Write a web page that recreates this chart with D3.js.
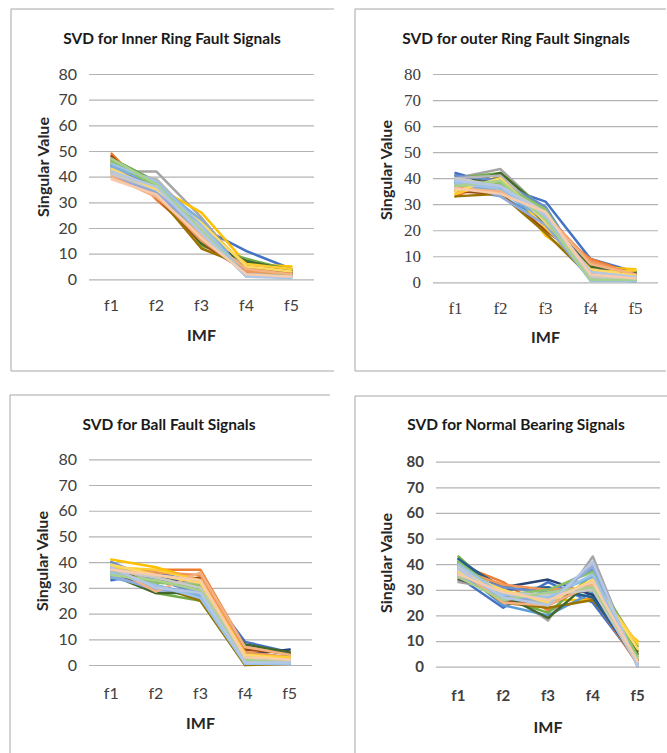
<!DOCTYPE html>
<html><head><meta charset="utf-8">
<script src="https://cdn.jsdelivr.net/npm/d3@7"></script>
<style>body{margin:0;background:#fff}svg{display:block}</style>
</head><body>
<svg id="c" width="667" height="753"></svg>
<script>
const imf = ["f1","f2","f3","f4","f5"];
const yTicks = [0,10,20,30,40,50,60,70,80];
const palette = ["#4472C4","#ED7D31","#A5A5A5","#FFC000","#5B9BD5","#70AD47",
  "#264478","#9E480E","#636363","#997300","#255E91","#43682B",
  "#698ED0","#F1975A","#B7B7B7","#FFCD33","#7CAFDD","#8CC168",
  "#8FAADC","#F4B183","#C9C9C9","#FFD966","#9DC3E6","#A9D18E","#B4C7E7","#F8CBAD"];
const titles = ["SVD for Inner Ring Fault Signals","SVD for outer Ring Fault Singnals","SVD for Ball Fault Signals","SVD for Normal Bearing Signals"];

const innerRing = [
 [47,38,20,11,4],[49,31,16,4,3],[42,42,24,3,2],[45,36,26,6,5],[43,37,18,2,1.5],[47,38,13,8,3.5],
 [44,35,15,7,3],[48,32,14,3,2.5],[43,36,22,5,3],[46,33,12,5,3],[42,35,17,2,1],[45,37,14,7,3.5],
 [44,36,19,2,1],[41,33,15,3,2],[43,39,21,1,1],[42,34,20,6,4],[44,37,23,1,1],[46,36,16,2,1.5],
 [40,34,18,2,1],[40,32,17,4,2],[41,35,20,1,1],[43,35,22,5,3],[45,38,21,1,0.5],[47,37,19,1,1],
 [42,36,18,1,1],[39,33,16,2,1]];
const outerRing = [
 [42,37,31,9,4],[33,40,22,9,3],[40,43.5,27,5,3],[34,41,18,6,5],[36,33,24,1,1],[40,42,28,3,2],
 [41,38,25,5,3],[35,34,20,7,3.5],[38,40,26,4,2],[33,34,19,2,1],[39,36,23,1,0.5],[37,42,27,6,4],
 [41,39,29,2,1],[36,37,26,8,3],[40,41,25,1,1],[34,39,21,4,4.5],[38,35,24,3,2],[37,38,28,2,1.5],
 [39,33,22,1,1],[36,35,26,7,3],[40,37,27,2,1],[35,40,23,5,2.5],[38,36,25,0.5,0.5],[37,39,24,1,1],
 [39,37,26,4,2],[36,34,27,3,1.5]];
const ballFault = [
 [33,36,32,9,5],[35,37,37,7,4],[38,34,30,5,3],[41,38,33,6,5],[40,31,27,2,1],[36,28,25,0,4],
 [37,33,29,4,6],[34,32,34,6,4.5],[36,30,26,1,1],[39,31,25,0,0.5],[38,35,31,3,2],[35,28,28,8,5],
 [40,33,28,1,1],[37,36,35,5,3],[39,32,32,2,1],[38,37,33,4,3],[34,30,27,1,0.5],[36,32,31,3,2],
 [35,29,29,1,1],[38,28.5,36,7,4],[37,34,30,2,1],[39,35,32,4,2],[36,31,26,0.5,0.5],[35,33,29,2,1],
 [38,30,28,1,1],[37,35,33,3,2]];
const normalBearing = [
 [35,23,33,25,2],[40,33,22,27,1],[33,30,18,43,0],[36,28,26,26,10],[38,24,20,29,1],[43,27,21,36,8],
 [41,31,34,28,3],[39,26,24,32,2],[34,29,27,30,1],[37,25,23,26,6],[42,30,31,27,2],[40,28,19,34,5],
 [36,31,29,38,1],[38,32,30,31,3],[39,27,25,40,0],[35,29,27,33,9],[37,26,28,35,1],[41,28,30,37,4],
 [36,27,26,39,0.5],[38,25,24,32,2],[39,29,28,30,1],[37,30,25,34,7],[40,28,27,36,1],[35,26,29,31,3],
 [38,27,24,41,0.5],[36,29,26,33,2]];

const svg = d3.select("#c");
const SANS = "Lato, 'Open Sans', sans-serif";
const SERIF = "'Liberation Serif', 'Times New Roman', 'DejaVu Serif', serif";

const panels = [
 {data: innerRing, title: titles[0], box:[11,9,334,371], gx:[89,314], gy:[279.3,74], tx:172, ty:39,
  tickFont:SANS, tickW:"normal", tickSize:16, xlabY:305, imfY:335, svX:43, svY:167},
 {data: outerRing, title: titles[1], box:[355,9,666,371], gx:[433,658], gy:[282.3,74], tx:516, ty:39,
  tickFont:SERIF, tickW:"normal", tickSize:17, xlabY:308, imfY:337, svX:386, svY:170},
 {data: ballFault, title: titles[2], box:[10,395,330,760], gx:[89,312], gy:[665,459.3], tx:169, ty:425,
  tickFont:SANS, tickW:"normal", tickSize:16, xlabY:693, imfY:723, svX:42, svY:561},
 {data: normalBearing, title: titles[3], box:[355,396,672,760], gx:[436,660], gy:[666.7,461.7], tx:516, ty:425,
  tickFont:SANS, tickW:"bold", tickSize:15, xlabY:696, imfY:727, svX:386, svY:563}
];

panels.forEach(p => {
  const g = svg.append("g");
  const [x0,y0,x1,y1] = p.box;
  g.append("path").attr("d", `M${x1},${y0}H${x0}V${y1}H${x1}`)
    .attr("fill","none").attr("stroke","#a6a6a6").attr("stroke-width",1);

  const x = d3.scaleBand().domain(imf).range(p.gx);
  const y = d3.scaleLinear().domain([0,80]).range(p.gy);

  const yAxis = d3.axisLeft(y).tickValues(yTicks).tickSize(-(p.gx[1]-p.gx[0])).tickPadding(12);
  const ya = g.append("g").attr("transform",`translate(${p.gx[0]},0)`).call(yAxis)
    .attr("font-family", p.tickFont);
  ya.select(".domain").remove();
  ya.selectAll(".tick line").attr("stroke","#b3b3b3").attr("stroke-width",1.2);
  ya.selectAll(".tick text").attr("fill","#404040").attr("font-family",p.tickFont)
    .style("font-size",p.tickSize+"px").style("font-weight",p.tickW);

  const xAxis = d3.axisBottom(x).tickSize(0).tickPadding(0);
  const xa = g.append("g").attr("transform",`translate(0,${p.xlabY})`).call(xAxis)
    .attr("font-family", p.tickFont);
  xa.select(".domain").remove();
  xa.selectAll(".tick text").attr("dy","0.35em").attr("fill","#404040").attr("font-family",p.tickFont)
    .style("font-size",p.tickSize+"px").style("font-weight",p.tickW);

  const line = d3.line().x((d,i)=>x(imf[i])+x.bandwidth()/2).y(d=>y(d));
  g.append("g").selectAll("path").data(p.data).join("path")
    .attr("d", line).attr("fill","none")
    .attr("stroke",(d,i)=>palette[i%palette.length])
    .attr("stroke-width",2.5).attr("stroke-linejoin","round").attr("stroke-linecap","round");

  g.append("text").attr("x",p.tx).attr("y",p.ty).attr("dy","0.35em").attr("text-anchor","middle")
    .style("font-family",SANS).style("font-weight","bold").style("font-size","15.5px").attr("fill","#1a1a1a")
    .text(p.title);
  g.append("text").attr("x",(p.gx[0]+p.gx[1])/2).attr("y",p.imfY).attr("dy","0.35em").attr("text-anchor","middle")
    .style("font-family",SANS).style("font-weight","bold").style("font-size","16px").attr("fill","#262626")
    .text("IMF");
  g.append("text").attr("transform",`translate(${p.svX},${p.svY}) rotate(-90)`).attr("dy","0.35em")
    .attr("text-anchor","middle")
    .style("font-family",SANS).style("font-weight","bold").style("font-size","16px").attr("fill","#262626")
    .text("Singular Value");
});
</script>
</body></html>
